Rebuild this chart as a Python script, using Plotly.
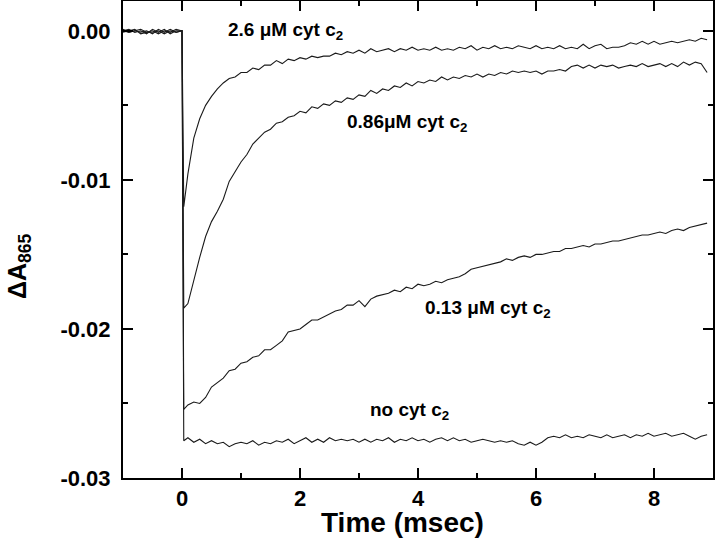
import plotly.graph_objects as go

# ---- data ----
TIME_PRE = [-1.0, -0.9, -0.8, -0.7, -0.6, -0.5, -0.4, -0.3, -0.2, -0.1, 0.0]
TIME_POST = [0.03, 0.1, 0.2, 0.3, 0.4, 0.5, 0.6, 0.7, 0.8, 0.9,
             1.0, 1.1, 1.2, 1.3, 1.4, 1.5, 1.6, 1.7, 1.8, 1.9,
             2.0, 2.1, 2.2, 2.3, 2.4, 2.5, 2.6, 2.7, 2.8, 2.9,
             3.0, 3.1, 3.2, 3.3, 3.4, 3.5, 3.6, 3.7, 3.8, 3.9,
             4.0, 4.1, 4.2, 4.3, 4.4, 4.5, 4.6, 4.7, 4.8, 4.9,
             5.0, 5.1, 5.2, 5.3, 5.4, 5.5, 5.6, 5.7, 5.8, 5.9,
             6.0, 6.1, 6.2, 6.3, 6.4, 6.5, 6.6, 6.7, 6.8, 6.9,
             7.0, 7.1, 7.2, 7.3, 7.4, 7.5, 7.6, 7.7, 7.8, 7.9,
             8.0, 8.1, 8.2, 8.3, 8.4, 8.5, 8.6, 8.7, 8.8, 8.9]

BASE_26 = [0.0000, 0.0001, -0.0001, 0.0000, -0.0002, 0.0001, -0.0001, 0.0001, -0.0002, 0.0000, 0.0000]
BASE_086 = [0.0001, -0.0001, 0.0000, -0.0001, 0.0000, -0.0002, 0.0001, -0.0001, 0.0001, -0.0001, 0.0000]
BASE_013 = [-0.0001, 0.0000, 0.0001, -0.0002, -0.0001, 0.0000, -0.0002, 0.0000, -0.0001, 0.0001, 0.0000]
BASE_NO = [0.0000, -0.0001, 0.0000, 0.0001, -0.0001, -0.0001, 0.0000, -0.0002, 0.0000, -0.0001, 0.0000]

CYT_26 = [-0.0118, -0.0096, -0.0072, -0.0059, -0.0050, -0.0044, -0.0039, -0.0035, -0.0032, -0.0031,
          -0.0028, -0.0028, -0.0025, -0.0026, -0.0023, -0.0023, -0.0020, -0.0022, -0.0019, -0.0020,
          -0.0018, -0.0019, -0.0017, -0.0018, -0.0017, -0.0017, -0.0015, -0.0016, -0.0014, -0.0015,
          -0.0013, -0.0015, -0.0012, -0.0014, -0.0013, -0.0012, -0.0014, -0.0012, -0.0013, -0.0011,
          -0.0013, -0.0012, -0.0013, -0.0011, -0.0013, -0.0012, -0.0013, -0.0011, -0.0012, -0.0010,
          -0.0013, -0.0011, -0.0012, -0.0010, -0.0012, -0.0011, -0.0012, -0.0010, -0.0011, -0.0012,
          -0.0010, -0.0012, -0.0011, -0.0012, -0.0010, -0.0012, -0.0011, -0.0012, -0.0009, -0.0012,
          -0.0010, -0.0009, -0.0012, -0.0011, -0.0011, -0.0010, -0.0008, -0.0009, -0.0007, -0.0009,
          -0.0007, -0.0009, -0.0008, -0.0007, -0.0008, -0.0007, -0.0006, -0.0007, -0.0005, -0.0006]

CYT_086 = [-0.0186, -0.0183, -0.0167, -0.0152, -0.0138, -0.0128, -0.0121, -0.0113, -0.0101, -0.0094,
           -0.0088, -0.0083, -0.0076, -0.0072, -0.0068, -0.0066, -0.0062, -0.0061, -0.0058, -0.0057,
           -0.0054, -0.0055, -0.0051, -0.0052, -0.0049, -0.0050, -0.0047, -0.0048, -0.0045, -0.0046,
           -0.0043, -0.0044, -0.0040, -0.0042, -0.0039, -0.0040, -0.0037, -0.0038, -0.0035, -0.0037,
           -0.0034, -0.0035, -0.0033, -0.0034, -0.0031, -0.0033, -0.0031, -0.0032, -0.0030, -0.0031,
           -0.0029, -0.0031, -0.0029, -0.0030, -0.0028, -0.0029, -0.0027, -0.0028, -0.0027, -0.0028,
           -0.0027, -0.0029, -0.0027, -0.0027, -0.0026, -0.0027, -0.0024, -0.0023, -0.0025, -0.0023,
           -0.0025, -0.0023, -0.0024, -0.0023, -0.0025, -0.0024, -0.0023, -0.0024, -0.0022, -0.0024,
           -0.0023, -0.0022, -0.0024, -0.0022, -0.0024, -0.0021, -0.0023, -0.0021, -0.0022, -0.0028]

CYT_013 = [-0.0254, -0.0251, -0.0249, -0.0250, -0.0246, -0.0239, -0.0236, -0.0233, -0.0228, -0.0227,
           -0.0223, -0.0222, -0.0219, -0.0218, -0.0214, -0.0214, -0.0211, -0.0208, -0.0202, -0.0201,
           -0.0200, -0.0197, -0.0194, -0.0194, -0.0192, -0.0190, -0.0188, -0.0187, -0.0184, -0.0184,
           -0.0181, -0.0185, -0.0180, -0.0178, -0.0177, -0.0176, -0.0174, -0.0175, -0.0172, -0.0173,
           -0.0170, -0.0171, -0.0170, -0.0168, -0.0169, -0.0167, -0.0166, -0.0165, -0.0163, -0.0160,
           -0.0159, -0.0158, -0.0157, -0.0156, -0.0155, -0.0153, -0.0154, -0.0152, -0.0151, -0.0152,
           -0.0150, -0.0150, -0.0149, -0.0148, -0.0148, -0.0146, -0.0146, -0.0145, -0.0144, -0.0145,
           -0.0143, -0.0143, -0.0142, -0.0141, -0.0141, -0.0140, -0.0139, -0.0138, -0.0137, -0.0137,
           -0.0136, -0.0135, -0.0136, -0.0134, -0.0133, -0.0134, -0.0132, -0.0131, -0.0130, -0.0129]

CYT_NO = [-0.0275, -0.0273, -0.0276, -0.0274, -0.0277, -0.0275, -0.0277, -0.0276, -0.0279, -0.0277,
          -0.0276, -0.0277, -0.0275, -0.0278, -0.0276, -0.0277, -0.0275, -0.0276, -0.0274, -0.0277,
          -0.0275, -0.0273, -0.0276, -0.0274, -0.0276, -0.0273, -0.0275, -0.0274, -0.0275, -0.0274,
          -0.0276, -0.0274, -0.0276, -0.0274, -0.0275, -0.0273, -0.0276, -0.0274, -0.0275, -0.0273,
          -0.0275, -0.0274, -0.0276, -0.0274, -0.0273, -0.0275, -0.0273, -0.0275, -0.0274, -0.0276,
          -0.0275, -0.0274, -0.0275, -0.0276, -0.0275, -0.0276, -0.0275, -0.0277, -0.0278, -0.0276,
          -0.0278, -0.0276, -0.0273, -0.0272, -0.0273, -0.0271, -0.0273, -0.0272, -0.0273, -0.0271,
          -0.0272, -0.0273, -0.0271, -0.0273, -0.0272, -0.0271, -0.0273, -0.0271, -0.0272, -0.0270,
          -0.0272, -0.0271, -0.0270, -0.0272, -0.0271, -0.0270, -0.0272, -0.0274, -0.0272, -0.0271]

SERIES = [
    ("2.6 μM cyt c2", BASE_26, CYT_26),
    ("0.86 μM cyt c2", BASE_086, CYT_086),
    ("0.13 μM cyt c2", BASE_013, CYT_013),
    ("no cyt c2", BASE_NO, CYT_NO),
]

LABELS = [
    ("<b>2.6 μM cyt c<sub>2</sub></b>", 0.75, 0.0),
    ("<b>0.86μM cyt c<sub>2</sub></b>", 2.76, -0.0062),
    ("<b>0.13 μM cyt c<sub>2</sub></b>", 4.09, -0.01866),
    ("<b>no cyt c<sub>2</sub></b>", 3.16, -0.0255),
]

X_TICKS = [0, 2, 4, 6, 8]
X_TICKTEXT = ["0", "2", "4", "6", "8"]
X_MINOR = [-1, 1, 3, 5, 7, 9]
Y_TICKS = [0.0, -0.01, -0.02, -0.03]
Y_TICKTEXT = ["0.00", "-0.01", "-0.02", "-0.03"]
Y_MINOR = [-0.005, -0.015, -0.025]

FONT = "Liberation Sans, Arial, sans-serif"

fig = go.Figure()
for name, base, post in SERIES:
    fig.add_trace(go.Scatter(
        x=TIME_PRE + TIME_POST, y=base + post, mode="lines", name=name,
        line=dict(color="#1a1a1a", width=1.1), showlegend=False,
    ))

for text, x, y in LABELS:
    fig.add_annotation(x=x, y=y, text=text, showarrow=False, xanchor="left",
                       yanchor="middle", font=dict(family=FONT, size=19, color="black"))

# axis titles as annotations (positioned as in the reference)
fig.add_annotation(xref="paper", yref="paper", x=(402 - 123) / 590, y=-(522 - 478) / 477,
                   text="<b>Time (msec)</b>", showarrow=False, xanchor="center", yanchor="middle",
                   borderpad=0, font=dict(family=FONT, size=28, color="black"))
fig.add_annotation(xref="paper", yref="paper", x=-(123 - 19) / 590, y=(478 - 267) / 477,
                   text="<b>ΔA<sub>865</sub></b>", showarrow=False, textangle=-90,
                   xanchor="center", yanchor="middle",
                   font=dict(family=FONT, size=25, color="black"))

axis_common = dict(
    showline=True, linecolor="black", linewidth=2, mirror="ticks",
    ticks="inside", ticklen=10, tickwidth=2, tickcolor="black",
    showgrid=False, zeroline=False, automargin=False,
    tickfont=dict(family=FONT, size=22, color="black", weight="bold"),
)

fig.update_xaxes(range=[-1, 9], tickmode="array", tickvals=X_TICKS, ticktext=X_TICKTEXT,
                 minor=dict(tickmode="array", tickvals=X_MINOR, ticks="inside", ticklen=5,
                            tickwidth=2, tickcolor="black"),
                 ticklabelstandoff=0, **axis_common)
fig.update_yaxes(range=[-0.03, 0.002], tickmode="array", tickvals=Y_TICKS, ticktext=Y_TICKTEXT,
                 minor=dict(tickmode="array", tickvals=Y_MINOR, ticks="inside", ticklen=5,
                            tickwidth=2, tickcolor="black"),
                 ticklabelstandoff=6, **axis_common)

fig.update_layout(
    width=715, height=539,
    margin=dict(l=123, r=2, t=1, b=61),
    paper_bgcolor="white", plot_bgcolor="white",
    font=dict(family=FONT, color="black"),
)

fig.write_html("out.html", config={"displayModeBar": False},
               post_script="document.body.style.margin='0';")
